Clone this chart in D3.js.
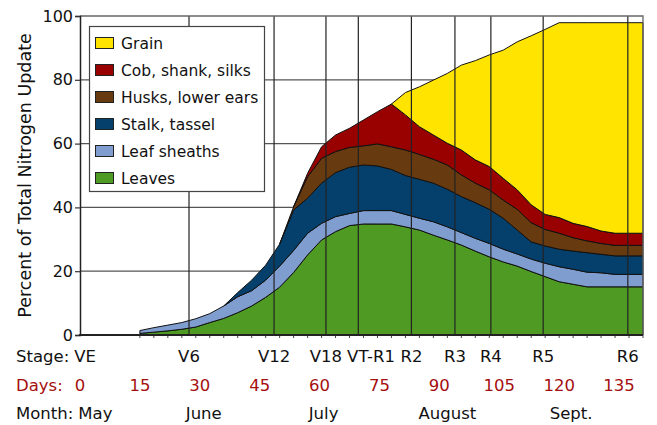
<!DOCTYPE html>
<html><head><meta charset="utf-8">
<script src="https://cdn.jsdelivr.net/npm/d3@7"></script>
<style>body{margin:0;background:#fff}svg{display:block}text{font-family:"DejaVu Sans",Verdana,sans-serif}</style>
</head><body><svg id="c" width="657" height="425"></svg>
<script>
// x positions of samples, in days after emergence
const sampleDays = [15,18.5,22,25.5,29,32.5,36,39.5,43,46.5,50,53.5,57,60.5,64,67.5,71,74.5,78,81.5,85,88.5,92,95.5,99,102.5,106,109.5,113,116.5,120,123.5,127,130.5,134,137.5,141];
const N = null;
const leaves   = [0.5,0.9,1.3,1.8,2.5,3.9,5.2,7.0,9.1,11.8,15.0,19.6,25.1,29.8,32.4,34.3,34.8,34.8,34.8,33.9,32.9,31.3,29.8,28.2,26.3,24.5,22.9,21.6,19.9,18.3,16.7,15.9,15.1,15.1,15.1,15.1,15.1];
const sheaths  = [0.9,1.4,1.8,2.1,2.6,2.8,3.9,5.0,4.8,5.4,6.6,6.9,6.8,5.2,4.7,3.8,4.2,4.2,4.2,3.9,3.7,4.2,4.1,3.9,4.0,4.2,4.0,3.8,3.9,4.2,4.7,4.7,4.6,4.4,3.9,3.9,3.9];
const stalk    = [N,N,N,N,N,N,0,1.3,3.3,4.7,6.9,12.7,11.0,12.6,13.8,14.5,14.3,14.0,12.9,12.2,12.2,12.1,11.8,11.3,11.2,10.7,9.7,7.5,5.4,5.4,5.5,5.7,6.1,5.8,5.8,5.8,5.8];
const husks    = [N,N,N,N,N,N,N,N,N,N,0,1.0,6.7,7.8,6.6,6.2,6.0,6.9,7.1,8.0,7.8,7.5,7.6,6.8,6.1,6.1,5.7,6.5,6.0,5.2,5.0,4.2,3.7,3.4,3.3,3.3,3.3];
const cob      = [N,N,N,N,N,N,N,N,N,N,N,0,1.1,3.6,5.2,6.0,8.1,10.1,13.4,11.0,8.7,7.6,6.8,7.8,7.3,7.3,6.8,6.1,5.6,4.7,4.9,4.5,4.5,3.9,3.8,3.8,3.8];
const grain    = [N,N,N,N,N,N,N,N,N,N,N,N,N,N,N,N,N,N,0,7.0,12.5,17.2,21.9,26.6,31.1,35.0,40.2,46.4,53.0,58.0,61.1,62.9,63.9,65.3,66.0,66.0,66.0];

const seriesNames  = ["Leaves","Leaf sheaths","Stalk, tassel","Husks, lower ears","Cob, shank, silks","Grain"];
const seriesValues = [leaves, sheaths, stalk, husks, cob, grain];
const seriesColors = ["#4f9a22","#7f9ecf","#053f6c","#673a10","#990000","#ffe400"];

const yTicks = [0,20,40,60,80,100];
const gridValues = [20,40,60,80];
const stageNames = ["VE","V6","V12","V18","VT-R1","R2","R3","R4","R5","R6"];
const stageDays  = [0,27.3,48.6,61.6,69.7,83.0,93.9,102.9,116.0,137.2];
const dayLabels  = [0,15,30,45,60,75,90,105,120,135];
const monthNames = ["May","June","July","August","Sept."];
const monthDays  = [0,31,61,92,123];

const W = 657, H = 425;
const M = {l:80, r:14, t:16, b:90};
const svg = d3.select("#c");
const x = d3.scaleLinear().domain([0,141]).range([M.l, W - M.r]);
const y = d3.scaleLinear().domain([0,100]).range([H - M.b, M.t]);

// stacking
const stacked = seriesValues.map(() => []);
sampleDays.forEach((d,i) => {
  let base = 0;
  seriesValues.forEach((vals,k) => {
    const v = vals[i];
    stacked[k].push({d, y0: base, y1: base + (v == null ? 0 : v), def: v != null});
    base += (v == null ? 0 : v);
  });
});

// horizontal grid (behind)
svg.append("g").selectAll("line").data(gridValues).join("line")
  .attr("x1", x(0)).attr("x2", x(141)).attr("y1", d=>y(d)).attr("y2", d=>y(d))
  .attr("stroke","#555").attr("stroke-width",1.3);

// areas
const area = d3.area().defined(p=>p.def).x(p=>x(p.d)).y0(p=>y(p.y0)).y1(p=>y(p.y1));
svg.append("g").selectAll("path").data(stacked).join("path")
  .attr("d", area).attr("fill",(d,k)=>seriesColors[k])
  .attr("stroke","#111").attr("stroke-width",1).attr("stroke-linejoin","round");

// stage lines (on top)
svg.append("g").selectAll("line").data(stageDays.slice(1)).join("line")
  .attr("x1", d=>x(d)).attr("x2", d=>x(d)).attr("y1", y(100)).attr("y2", y(0))
  .attr("stroke","#222").attr("stroke-width",1.2);

// frame top/right
svg.append("path").attr("d", `M${x(0)},${y(100)}H${x(141)}V${y(0)}`)
  .attr("fill","none").attr("stroke","#666").attr("stroke-width",1.3);

// minor ticks at samples
svg.append("g").selectAll("line").data(sampleDays).join("line")
  .attr("x1", d=>x(d)).attr("x2", d=>x(d)).attr("y1", y(0)).attr("y2", y(0)+3)
  .attr("stroke","#444").attr("stroke-width",1);

// y axis
const ya = svg.append("g").attr("transform",`translate(${x(0)},0)`)
  .call(d3.axisLeft(y).tickValues(yTicks).tickSize(5).tickPadding(2));
ya.select(".domain").attr("stroke","#222").attr("stroke-width",1.5);
ya.selectAll(".tick line").attr("stroke","#333").attr("stroke-width",1.2);
ya.selectAll("text").attr("font-size",16).attr("fill","#111").attr("font-family","DejaVu Sans, sans-serif");

// bottom axis line
svg.append("line").attr("x1",x(0)-1).attr("x2",x(141)).attr("y1",y(0)).attr("y2",y(0))
  .attr("stroke","#222").attr("stroke-width",2);

// y label
svg.append("text").attr("transform",`translate(31,${(y(0)+y(100))/2}) rotate(-90)`)
  .attr("text-anchor","middle").attr("font-size",17.5).attr("fill","#111")
  .text("Percent of Total Nitrogen Update");

// label rows with simple collision avoidance
function row(title, names, positions, baseline, color){
  const g = svg.append("g");
  const t = g.append("text").attr("x",16).attr("y",baseline).attr("font-size",16.5).attr("fill",color).text(title);
  let prevRight = t.node().getComputedTextLength() + 16;
  names.forEach((nm,i)=>{
    const el = g.append("text").attr("y",baseline).attr("font-size",16.5).attr("fill",color).text(nm);
    const w = el.node().getComputedTextLength();
    let left = x(positions[i]) - w/2;
    if (left < prevRight + 5) left = prevRight + 5;
    el.attr("x",left);
    prevRight = left + w;
  });
}
row("Stage:", stageNames, stageDays, 362, "#111");
row("Days:", dayLabels.map(String), dayLabels, 391, "#a50f0f");
row("Month:", monthNames, monthDays, 419, "#111");

// legend
const leg = svg.append("g");
leg.append("rect").attr("x",89.5).attr("y",26.5).attr("width",175).attr("height",165)
  .attr("fill","#fff").attr("stroke","#444").attr("stroke-width",1.2);
const order = d3.range(seriesNames.length).reverse();
const li = leg.selectAll("g.it").data(order).join("g").attr("class","it")
  .attr("transform",(k,i)=>`translate(95,${43 + i*27})`);
li.append("rect").attr("x",0.5).attr("y",-5.5).attr("width",18).attr("height",11)
  .attr("fill",k=>seriesColors[k]).attr("stroke","#222").attr("stroke-width",1);
li.append("text").attr("x",26).attr("y",5.5).attr("font-size",15.5).attr("fill","#111")
  .text(k=>seriesNames[k]);
</script></body></html>
